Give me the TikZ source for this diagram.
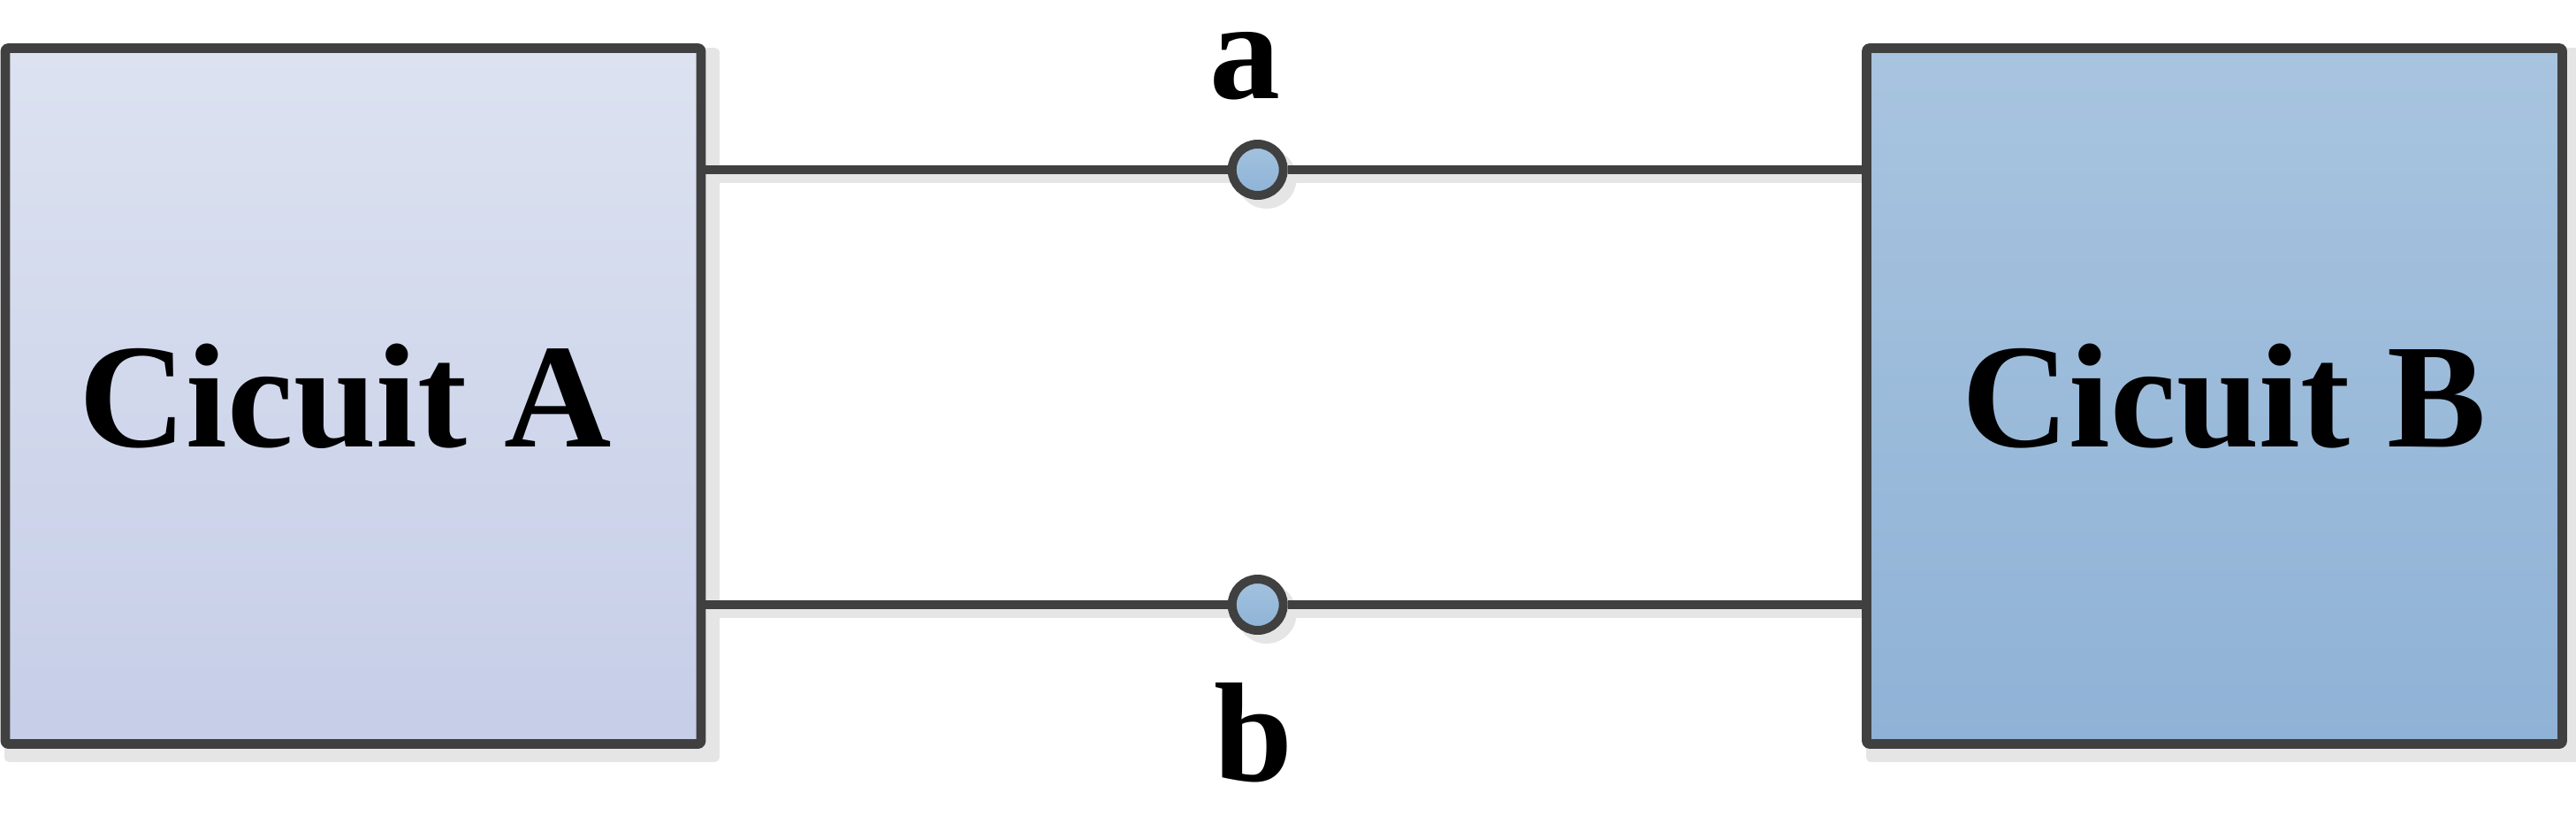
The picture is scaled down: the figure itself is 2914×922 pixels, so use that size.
\documentclass[tikz,border=0pt]{standalone}
\usepackage{fontspec}
\setmainfont{Liberation Serif}
\definecolor{edgec}{HTML}{404040}
\definecolor{shadowc}{HTML}{E5E5E5}
\definecolor{atop}{HTML}{DCE2F0}
\definecolor{abot}{HTML}{C6CEE8}
\definecolor{btop}{HTML}{A8C4DF}
\definecolor{bbot}{HTML}{8FB2D6}
\definecolor{ctop}{HTML}{A3C2DF}
\definecolor{cbot}{HTML}{8EB3D6}
\pgfdeclarelayer{bg}
\pgfsetlayers{bg,main}
\begin{document}
\begin{tikzpicture}[x=0.25pt,y=-0.25pt,
  circuitbox/.style={draw=edgec, line width=2.65pt, line join=round, rounded corners=0.7pt,
    inner sep=0pt, minimum width=196.75pt, minimum height=196.75pt},
  boxtext/.style={inner sep=0pt, font=\fontsize{42}{50}\selectfont\bfseries},
  terminal/.style={circle, draw=edgec, line width=2.5pt, inner sep=0pt, minimum size=14.5pt,
    top color=ctop, bottom color=cbot},
  wire/.style={draw=edgec, line width=2.5pt},
  shadowline/.style={draw=shadowc, line width=2.5pt},
  lab/.style={inner sep=0pt, font=\fontsize{40}{46}\selectfont\bfseries}]
\useasboundingbox (0,0) rectangle (2914,922);
\node[circuitbox, top color=atop, bottom color=abot] (A) at (399.5,448) {};
\node[circuitbox, top color=btop, bottom color=bbot] (B) at (2505,448) {};
\node[boxtext] (tA) at ([xshift=-2.25pt]A.center) {Cicuit A};
\node[boxtext] (tB) at ([xshift=2.75pt]B.center) {Cicuit B};
\node[terminal] (ta) at (1422.7,192) {};
\node[terminal] (tb) at (1422.7,684) {};
\node[lab, anchor=base] (la) at (1408,111) {a};
\node[lab, anchor=base] (lb) at (1418,883) {b};
\begin{pgfonlayer}{bg}
  % shadows
  \draw[draw=shadowc, fill=shadowc, line width=2.65pt, line join=round]
    ([shift={(10,10)}]A.north west) rectangle ([shift={(10,10)}]A.south east);
  \draw[draw=shadowc, fill=shadowc, line width=2.65pt, line join=round]
    ([shift={(10,10)}]B.north west) rectangle ([shift={(10,10)}]B.south east);
  \draw[shadowline] ([shift={(10,10)}]ta -| A.east) -- ([shift={(10,10)}]ta -| B.west);
  \draw[shadowline] ([shift={(10,10)}]tb -| A.east) -- ([shift={(10,10)}]tb -| B.west);
  \fill[shadowc] ([shift={(10,10)}]ta.center) circle[radius=34];
  \fill[shadowc] ([shift={(10,10)}]tb.center) circle[radius=34];
  % wires
  \draw[wire] (ta -| A.east) -- (ta) -- (ta -| B.west);
  \draw[wire] (tb -| A.east) -- (tb) -- (tb -| B.west);
\end{pgfonlayer}
\end{tikzpicture}
\end{document}
